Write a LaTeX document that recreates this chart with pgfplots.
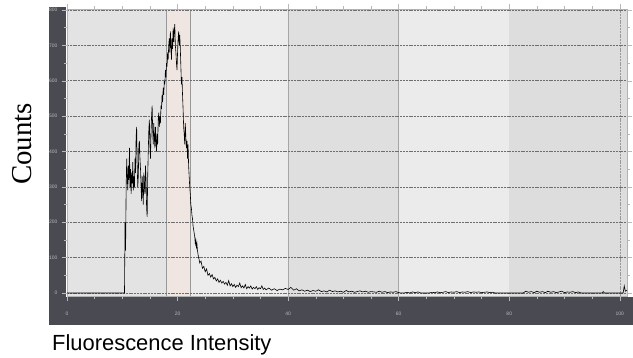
\documentclass[border=0pt]{standalone}
\usepackage{pgfplots}
\pgfplotsset{compat=1.18}
\usepackage{fontspec}
\setmainfont{Liberation Sans}
\newfontfamily\serifcounts{Liberation Serif}
\definecolor{frame}{HTML}{4A4A52}
\definecolor{tickc}{HTML}{B8B8BE}
\definecolor{bandA}{HTML}{E3E3E3}
\definecolor{bandB}{HTML}{ECECEC}
\definecolor{bandC}{HTML}{DFDFDF}
\definecolor{bandD}{HTML}{EBEBEB}
\definecolor{bandE}{HTML}{DDDDDD}
\definecolor{selfill}{HTML}{EFE6E2}
\definecolor{gridc}{HTML}{6E6E6E}
\begin{document}
\begin{tikzpicture}
\begin{axis}[
  at={(0,0)}, anchor=south west,
  scale only axis, width=560bp, height=287bp,
  set layers=standard,
  xmin=0, xmax=101.3, ymin=-8.5, ymax=803,
  axis line style={draw=gray!60, line width=0.5bp},
  xtick={0,20,...,100}, ytick={0,100,...,800},
  minor x tick num=3, minor y tick num=1,
  tick align=outside, major tick length=5bp, minor tick length=3bp,
  tick style={color=tickc, line width=0.5bp},
  ymajorgrids,
  major grid style={color=gridc, dash pattern=on 2bp off 0.8bp, line width=0.75bp},
  /pgf/number format/assume math mode=true,
  ticklabel style={font=\fontsize{5}{5}\selectfont, color=tickc},
  xticklabel style={yshift=-8bp},
  yticklabel style={xshift=-1bp},
  axis background/.style={fill=bandA},
  clip mode=individual,
]
\begin{pgfonlayer}{axis background}
\fill[frame] ([shift={(-18bp,-29bp)}]rel axis cs:0,0) rectangle ([shift={(6bp,-1bp)}]rel axis cs:1,0);
\fill[frame] ([shift={(-18bp,-1bp)}]rel axis cs:0,0) rectangle ([shift={(-1.5bp,2bp)}]rel axis cs:0,1);
\fill[bandB] (axis cs:20,-8.5) rectangle (axis cs:40,803);
\fill[bandC] (axis cs:40,-8.5) rectangle (axis cs:60,803);
\fill[bandD] (axis cs:60,-8.5) rectangle (axis cs:80,803);
\fill[bandE] (axis cs:80,-8.5) rectangle (axis cs:101.3,803);
\fill[selfill] (axis cs:17.9,-8.5) rectangle (axis cs:22.4,803);
\draw[gray!80, line width=0.7bp] (axis cs:17.9,-8.5) rectangle (axis cs:22.4,803);
\draw[gray!70, line width=0.6bp] (axis cs:40,-8.5) -- (axis cs:40,803);
\draw[gray!70, line width=0.6bp] (axis cs:60,-8.5) -- (axis cs:60,803);
\draw[gray!80, line width=0.6bp, dash pattern=on 2bp off 0.8bp] (axis cs:100,-8.5) -- (axis cs:100,803);
\end{pgfonlayer}
\addplot[black, line width=0.6bp, sharp plot] table {
x y
0 0
10.4 0
10.5 200
10.6 120
10.7 300
10.8 380
10.9 330
11.0 290
11.1 360
11.2 320
11.3 410
11.4 300
11.5 350
11.6 280
11.7 340
11.8 310
11.9 370
12.0 290
12.1 330
12.2 300
12.3 380
12.4 340
12.5 440
12.6 470
12.7 360
12.8 300
12.9 330
13.0 420
13.1 430
13.2 380
13.3 350
13.4 300
13.5 260
13.6 330
13.7 290
13.8 250
13.9 340
14.0 300
14.1 280
14.2 360
14.3 320
14.4 240
14.5 215
14.6 330
14.7 400
14.8 460
14.9 490
15.0 420
15.1 380
15.2 450
15.3 500
15.4 530
15.5 460
15.6 420
15.7 480
15.8 440
15.9 410
16.0 470
16.1 430
16.2 400
16.3 450
16.4 420
16.5 490
16.6 510
16.7 470
16.8 500
16.9 480
17.0 530
17.1 520
17.2 560
17.3 540
17.4 580
17.5 560
17.6 600
17.7 590
17.8 630
17.9 610
18.0 650
18.1 640
18.2 680
18.3 660
18.4 700
18.5 720
18.6 680
18.7 740
18.8 700
18.9 660
19.0 720
19.1 690
19.2 750
19.3 710
19.4 740
19.5 760
19.6 700
19.7 680
19.8 650
19.9 630
20.0 680
20.1 720
20.2 740
20.3 700
20.4 730
20.5 690
20.6 640
20.7 590
20.8 610
20.9 560
21.0 520
21.1 470
21.2 450
21.3 420
21.4 480
21.5 440
21.6 410
21.7 430
21.8 380
21.9 420
22.0 360
22.1 330
22.2 300
22.3 280
22.4 250
22.5 240
22.6 220
22.7 210
22.8 190
22.9 180
23.0 170
23.1 160
23.2 140
23.3 150
23.4 130
23.5 140
23.6 120
23.7 110
23.8 100
23.9 95
24.0 85
24.25 90
24.5 70
24.75 75
25.0 60
25.25 68
25.5 50
25.75 55
26.0 45
26.25 52
26.5 40
26.75 44
27.0 34
27.25 40
27.5 30
27.75 36
28.0 28
28.25 33
28.5 25
28.75 30
29.0 22
29.25 35
29.5 20
29.75 26
30.0 18
30.25 24
30.5 16
30.75 22
31.0 18
31.25 28
31.5 15
31.75 20
32.0 14
32.25 24
32.5 12
32.75 18
33.0 14
33.25 20
33.5 11
33.75 16
34.0 12
34.25 18
34.5 10
34.75 15
35.0 12
35.25 20
35.5 10
35.75 14
36.0 9
36.5 14
37 8
37.5 12
38 7
38.5 11
39 9
39.5 13
40 10
40.5 16
41 8
41.5 12
42 6
42.5 9
43 5
43.5 8
44 4
44.5 7
45 5
45.5 9
46 4
46.5 6
47 3
47.5 8
48 4
48.5 6
49 3
49.5 5
50 2
50.5 7
51 3
51.5 5
52 2
52.5 4
53 6
53.5 3
54 5
54.5 2
55 4
55.5 3
56 2
56.5 5
57 2
57.5 4
58 1
58.5 3
59 2
59.5 4
60 1
60.5 0
61 0
61.5 2
62 0
62.5 3
63 1
63.5 3
64 0
65.5 0
66 2
66.5 1
67 3
67.5 1
68 2
68.5 4
69 1
69.5 3
70 2
70.5 4
71 1
71.5 3
72 2
72.5 4
73 1
73.5 3
74 2
74.5 3
75 1
75.5 2
76 3
76.5 1
77 2
77.5 0
82.5 0
83 5
83.5 2
84 4
84.5 1
85 5
85.5 2
86 4
86.5 1
87 5
87.5 2
88 4
88.5 1
89 3
89.5 5
90 1
90.5 3
91 2
91.5 4
92 1
92.5 3
93 0
96.8 0
97 4
97.2 0
100.6 0
100.8 20
101.0 5
101.3 8
};
\end{axis}
\node[rotate=90, inner sep=0pt, font=\serifcounts\fontsize{29}{29}\selectfont] at (-45bp,152bp) {Counts};
\node[anchor=base west, inner sep=0pt, font=\fontsize{22}{22}\selectfont] at (-15bp,-54bp) {Fluorescence Intensity};
\pgfresetboundingbox
\path[use as bounding box] (-67bp,-62bp) rectangle (566bp,296bp);
\end{tikzpicture}
\end{document}
